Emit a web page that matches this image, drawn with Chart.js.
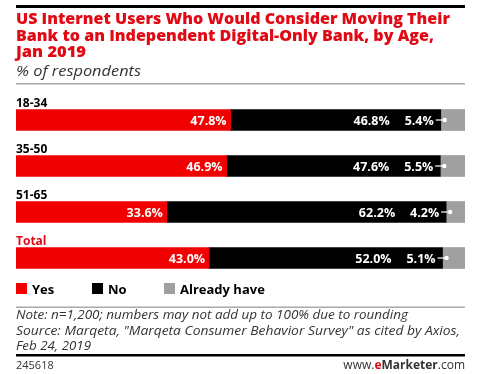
<!DOCTYPE html>
<html>
<head>
<meta charset="utf-8">
<script src="https://cdn.jsdelivr.net/npm/chart.js@4.4.1/dist/chart.umd.min.js"></script>
<style>
  html, body { margin: 0; padding: 0; background: #fff; }
  #wrap { position: relative; width: 477px; height: 374px; }
</style>
</head>
<body>
<div id="wrap"><canvas id="chart" width="477" height="374"></canvas></div>
<script>
const categories = ['18-34', '35-50', '51-65', 'Total'];
const yes_values = [47.8, 46.9, 33.6, 43.0];
const no_values = [46.8, 47.6, 62.2, 52.0];
const already_values = [5.4, 5.5, 4.2, 5.1];
const series_names = ['Yes', 'No', 'Already have'];

const title_lines = [
    'US Internet Users Who Would Consider Moving Their',
    'Bank to an Independent Digital-Only Bank, by Age,',
    'Jan 2019'
];
const subtitle = '% of respondents';
const note_lines = [
    'Note: n=1,200; numbers may not add up to 100% due to rounding',
    'Source: Marqeta, "Marqeta Consumer Behavior Survey" as cited by Axios,',
    'Feb 24, 2019'
];

const RED = 'rgb(240,0,0)';
const BLACK = '#000';
const GRAY = 'rgb(160,160,160)';
const FONT = '"Open Sans", "Liberation Sans", Arial, sans-serif';

// fit text to a target width by squeezing horizontally
function fitText(ctx, text, x, y, width) {
    const w = ctx.measureText(text).width;
    ctx.save();
    ctx.translate(x, y);
    ctx.scale(width / w, 1);
    ctx.fillText(text, 0, 0);
    ctx.restore();
}

const decor = {
    id: 'decor',
    beforeDraw(chart) {
        const ctx = chart.ctx;
        ctx.save();
        // top rule
        ctx.fillStyle = '#000';
        ctx.fillRect(16, 5, 449, 3);
        // title
        ctx.fillStyle = 'rgb(225,10,20)';
        ctx.font = '800 15px ' + FONT;
        ctx.textBaseline = 'alphabetic';
        ctx.textAlign = 'left';
        fitText(ctx, title_lines[0], 16, 24, 434);
        fitText(ctx, title_lines[1], 16, 40.5, 418);
        fitText(ctx, title_lines[2], 16, 57, 70);
        ctx.fillStyle = '#333';
        ctx.font = 'italic 15px ' + FONT;
        fitText(ctx, subtitle, 16, 76, 125);
        // rules
        ctx.fillStyle = '#aaa';
        ctx.fillRect(16, 83, 449, 1.5);
        ctx.fillRect(16, 306.5, 449, 1.5);
        ctx.fillStyle = '#000';
        ctx.fillRect(16, 354, 449, 2.5);
        // category labels
        const ys = chart.scales.y;
        ctx.font = 'bold 12px ' + FONT;
        categories.forEach((c, i) => {
            ctx.fillStyle = c === 'Total' ? 'rgb(225,10,20)' : '#000';
            ctx.fillText(c, 16, ys.getPixelForValue(i) - 13.5);
        });
        // legend
        const colors = [RED, BLACK, GRAY];
        const lx = [16, 92, 164];
        ctx.font = 'bold 13px ' + FONT;
        series_names.forEach((s, i) => {
            ctx.fillStyle = colors[i];
            ctx.fillRect(lx[i], 283, 11, 11);
            ctx.fillStyle = '#000';
            ctx.fillText(s, lx[i] + 16, 294);
        });
        // notes
        ctx.fillStyle = '#333';
        ctx.font = 'italic 12.5px ' + FONT;
        fitText(ctx, note_lines[0], 16, 319, 392);
        fitText(ctx, note_lines[1], 16, 334.5, 444);
        fitText(ctx, note_lines[2], 16, 350, 75);
        // footer
        ctx.font = '11px ' + FONT;
        ctx.fillStyle = '#333';
        ctx.fillText('245618', 16, 369);
        ctx.textAlign = 'right';
        ctx.font = '12px ' + FONT;
        const w1 = ctx.measureText('.com').width;
        ctx.fillText('.com', 465, 369);
        ctx.font = 'bold 12px ' + FONT;
        const w2 = ctx.measureText('Marketer').width;
        ctx.fillText('Marketer', 465 - w1, 369);
        ctx.fillStyle = 'rgb(225,10,20)';
        const w3 = ctx.measureText('e').width;
        ctx.fillText('e', 465 - w1 - w2, 369);
        ctx.fillStyle = '#333';
        ctx.font = '12px ' + FONT;
        ctx.fillText('www.', 465 - w1 - w2 - w3, 369);
        ctx.restore();
    },
    afterDatasetsDraw(chart) {
        const ctx = chart.ctx;
        ctx.save();
        ctx.font = 'bold 12.5px ' + FONT;
        ctx.fillStyle = '#fff';
        ctx.strokeStyle = '#fff';
        ctx.textAlign = 'right';
        ctx.textBaseline = 'middle';
        const m0 = chart.getDatasetMeta(0).data;
        const m2 = chart.getDatasetMeta(2).data;
        categories.forEach((c, i) => {
            const y = m0[i].y + 1;
            ctx.fillText(yes_values[i].toFixed(1) + '%', m0[i].x - 4, y);
            const gx = m2[i].base;
            ctx.fillText(no_values[i].toFixed(1) + '%', gx - 51, y);
            ctx.fillText(already_values[i].toFixed(1) + '%', gx - 7, y);
            ctx.lineWidth = 1.2;
            ctx.beginPath();
            ctx.moveTo(gx - 5, m0[i].y);
            ctx.lineTo(gx + 4, m0[i].y);
            ctx.stroke();
            ctx.beginPath();
            ctx.arc(gx + 4, m0[i].y, 2.2, 0, Math.PI * 2);
            ctx.fill();
        });
        ctx.restore();
    }
};

const chart_config = {
    type: 'bar',
    data: {
        labels: categories,
        datasets: [
            { label: series_names[0], data: yes_values, backgroundColor: RED },
            { label: series_names[1], data: no_values, backgroundColor: BLACK },
            { label: series_names[2], data: already_values, backgroundColor: GRAY }
        ]
    },
    options: {
        indexAxis: 'y',
        responsive: false,
        animation: false,
        layout: { padding: { left: 16, right: 12, top: 97, bottom: 93 } },
        datasets: { bar: { barThickness: 21, borderWidth: 0 } },
        scales: {
            x: { stacked: true, min: 0, max: 100, display: false },
            y: { stacked: true, display: false }
        },
        plugins: {
            legend: { display: false },
            tooltip: { enabled: false }
        }
    },
    plugins: [decor]
};
var chart = new Chart(
    document.getElementById('chart'),
    chart_config
);
</script>
</body>
</html>
